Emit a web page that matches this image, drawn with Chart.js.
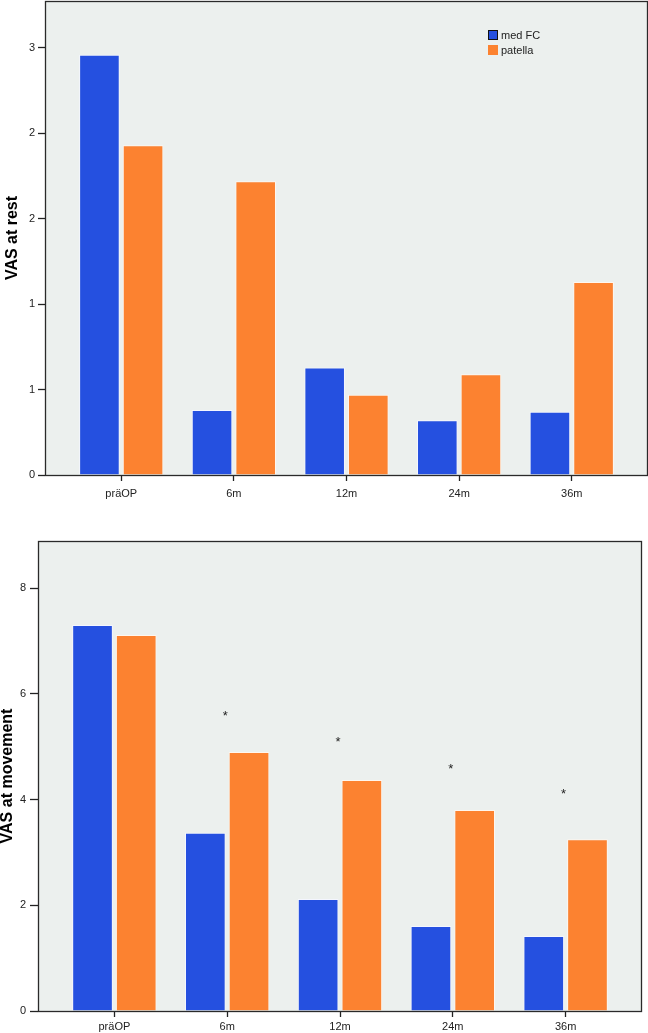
<!DOCTYPE html>
<html><head><meta charset="utf-8">
<script src="https://cdn.jsdelivr.net/npm/chart.js@4/dist/chart.umd.min.js"></script>
<style>
body{margin:0;background:#fff;width:648px;height:1033px;overflow:hidden;position:relative}
canvas{position:absolute;left:0}
#c1{top:0}
#c2{top:510px}
</style></head><body>
<canvas id="c1" width="648" height="505" style="width:648px;height:505px"></canvas>
<canvas id="c2" width="648" height="523" style="width:648px;height:523px"></canvas>
<script>
const categories = ['präOP', '6m', '12m', '24m', '36m'];
const seriesNames = ['med FC', 'patella'];
const restMedFC = [2.46, 0.38, 0.63, 0.32, 0.37];
const restPatella = [1.93, 1.72, 0.47, 0.59, 1.13];
const moveMedFC = [7.30, 3.37, 2.12, 1.61, 1.42];
const movePatella = [7.11, 4.90, 4.37, 3.80, 3.25];
const moveStars = ['', '*', '*', '*', '*'];
const moveStarY = [null, 5.62, 5.13, 4.63, 4.16];
const restTicks = [0, 0.5, 1, 1.5, 2, 2.5];
const moveTicks = [0, 2, 4, 6, 8];

const BLUE = '#2550E0';
const ORANGE = '#FC8230';
const BG = '#ECF0EE';
const FONT = "'Liberation Sans', Arial, sans-serif";

const framePlugin = {
  id: 'frame',
  beforeDraw(chart) {
    const a = chart.chartArea, ctx = chart.ctx;
    ctx.save();
    ctx.fillStyle = BG;
    ctx.fillRect(a.left, a.top, a.right - a.left, a.bottom - a.top);
    ctx.restore();
  },
  afterDraw(chart) {
    const a = chart.chartArea, ctx = chart.ctx;
    ctx.save();
    ctx.strokeStyle = '#2a2a2a';
    ctx.lineWidth = 1.3;
    ctx.strokeRect(a.left + 0.5, a.top + 0.5, a.right - a.left - 1, a.bottom - a.top);
    ctx.restore();
  }
};

const legendPlugin = {
  id: 'customLegend',
  afterDraw(chart, args, o) {
    const ctx = chart.ctx;
    ctx.save();
    ctx.font = '11px ' + FONT;
    ctx.textBaseline = 'middle';
    chart.data.datasets.forEach((ds, i) => {
      const y = o.y + i * o.gap;
      ctx.fillStyle = ds.backgroundColor;
      ctx.fillRect(o.x, y, o.box, o.box);
      if (i === 0 && o.outline) {
        ctx.strokeStyle = '#111';
        ctx.lineWidth = 1;
        ctx.strokeRect(o.x + 0.5, y + 0.5, o.box - 1, o.box - 1);
      }
      ctx.fillStyle = '#222';
      ctx.fillText(ds.label, o.x + o.box + 3, y + o.box / 2 + 0.5);
    });
    ctx.restore();
  }
};

const starPlugin = {
  id: 'stars',
  afterDatasetsDraw(chart, args, o) {
    if (!o.labels) return;
    const ctx = chart.ctx, xs = chart.scales.x, ys = chart.scales.y;
    ctx.save();
    ctx.font = '13px ' + FONT;
    ctx.fillStyle = '#222';
    ctx.textAlign = 'center';
    ctx.textBaseline = 'middle';
    o.labels.forEach((t, i) => {
      if (!t || o.values[i] == null) return;
      ctx.fillText(t, xs.getPixelForValue(i) - 2, ys.getPixelForValue(o.values[i]) + 3);
    });
    ctx.restore();
  }
};

function makeChart(id, a, b, ticks, yMax, yTitle, geo, stars) {
  const toPts = arr => arr.map((v, i) => ({x: i, y: v}));
  return new Chart(document.getElementById(id), {
    type: 'bar',
    data: {
      datasets: [
        {label: seriesNames[0], data: toPts(a), backgroundColor: BLUE, borderColor: '#f4f6ff', borderWidth: 1},
        {label: seriesNames[1], data: toPts(b), backgroundColor: ORANGE, borderColor: '#fff6ee', borderWidth: 1}
      ]
    },
    options: {
      responsive: false,
      animation: false,
      devicePixelRatio: 1,
      categoryPercentage: 0.775,
      barPercentage: 0.93,
      layout: {padding: geo.padding},
      plugins: {
        legend: {display: false},
        tooltip: {enabled: false},
        customLegend: geo.legend,
        stars: stars || {}
      },
      scales: {
        x: {
          type: 'linear',
          offset: false,
          min: -0.677,
          max: 4.677,
          afterFit(s) { s.height = geo.xHeight; s.paddingLeft = 0; s.paddingRight = 0; },
          afterBuildTicks(s) { s.ticks = categories.map((c, i) => ({value: i})); },
          ticks: {
            callback: (v) => categories[v],
            font: {family: FONT, size: 11},
            color: '#222',
            padding: geo.xPad,
            maxRotation: 0,
            autoSkip: false
          },
          grid: {drawOnChartArea: false, drawTicks: true, tickLength: 6, tickColor: '#222', tickWidth: 1.3, offset: false},
          border: {display: false}
        },
        y: {
          min: 0,
          max: yMax,
          afterFit(s) { s.width = geo.yWidth; s.paddingTop = 0; s.paddingBottom = 0; },
          afterBuildTicks(s) { s.ticks = ticks.map(v => ({value: v})); },
          ticks: {
            callback: (v) => String(Math.round(v)),
            font: {family: FONT, size: 11},
            color: '#222',
            padding: geo.yPad
          },
          grid: {drawOnChartArea: false, drawTicks: true, tickLength: geo.yTick, tickColor: '#222', tickWidth: 1.3},
          border: {display: false},
          title: {
            display: true,
            text: yTitle,
            font: {family: FONT, size: 16, weight: 'bold'},
            color: '#000',
            padding: geo.titlePad
          }
        }
      }
    },
    plugins: [framePlugin, legendPlugin, starPlugin]
  });
}

makeChart('c1', restMedFC, restPatella, restTicks, 2.775, 'VAS at rest', {
  padding: {top: 1, right: 0, left: 0, bottom: 0},
  xHeight: 30, yWidth: 45, xPad: 6, yPad: 3, yTick: 7,
  titlePad: {top: 3, bottom: 0},
  legend: {x: 488, y: 30, gap: 15, box: 10, outline: true}
});

makeChart('c2', moveMedFC, movePatella, moveTicks, 8.89, 'VAS at movement', {
  padding: {top: 31, right: 6, left: 0, bottom: 0},
  xHeight: 22, yWidth: 38, xPad: 3, yPad: 4, yTick: 8,
  titlePad: {top: -2, bottom: 0},
  legend: {x: 482, y: 573, gap: 14, box: 9, outline: false}
}, {labels: moveStars, values: moveStarY});
</script>
</body></html>
